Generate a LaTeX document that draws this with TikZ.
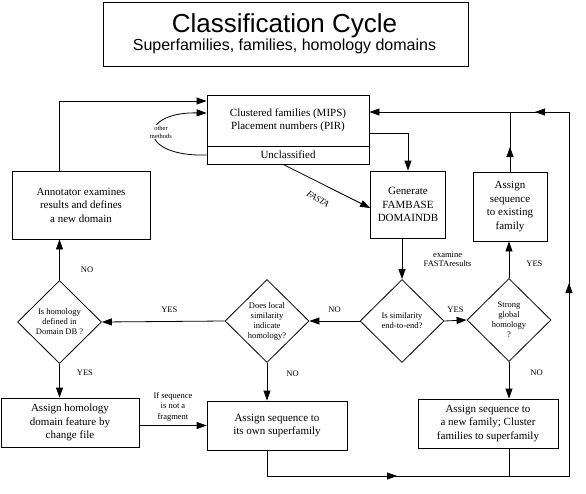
\documentclass[tikz,border=0pt]{standalone}
\usepackage{fontspec}
\setmainfont{Liberation Serif}
\newfontfamily\titlefont{Liberation Sans}
\usetikzlibrary{arrows.meta}
\usetikzlibrary{positioning}
\usetikzlibrary{calc}
\usetikzlibrary{shapes.geometric}

\tikzset{
    wire/.style={line width=0.8pt},
    arr/.style={line width=0.8pt, -{Triangle[length=10pt,width=7pt]}},
    box/.style={draw, line width=0.8pt, inner sep=0pt, align=center,
        font=\fontsize{11}{13.5}\selectfont},
    dia/.style={draw, diamond, line width=0.8pt, inner sep=0pt, align=center,
        minimum width=84pt, minimum height=83pt, font=\fontsize{8.5}{10}\selectfont},
    lbl/.style={font=\fontsize{8.5}{10}\selectfont, align=center, inner sep=1pt},
}

\begin{document}
\begin{tikzpicture}[x=1pt, y=-1pt]
            \useasboundingbox (0,0) rectangle (586,493);

            % 标题
            \node[draw, line width=0.8pt, minimum width=365pt, minimum height=64pt] (title) at (285.5,34) {};
            \node[anchor=base, font=\titlefont\fontsize{26}{28}\selectfont] (ttl) at (284.5,32) {Classification Cycle};
            \node[anchor=base, font=\titlefont\fontsize{16}{18}\selectfont] (sub) at (284.5,50) {Superfamilies, families, homology domains};

            % 方框
            \node[box, minimum width=162pt, minimum height=51pt] (clus) at (288,120.5) {Clustered families (MIPS)\\Placement numbers (PIR)};
            \node[box, minimum width=162pt, minimum height=18pt] (uncl) at (288,155) {Unclassified};
            \node[box, minimum width=138pt, minimum height=68pt] (annot) at (81,205) {Annotator examines\\results and defines\\a new domain};
            \node[box, minimum width=75pt, minimum height=67pt] (gen) at (408,204.5) {Generate\\FAMBASE\\DOMAINDB};
            \node[box, minimum width=74pt, minimum height=69pt] (exist) at (510,206.5) {Assign\\sequence\\to existing\\family};
            \node[box, minimum width=138pt, minimum height=49pt] (homa) at (70,422.5) {Assign homology\\domain feature by\\change file};
            \node[box, minimum width=140pt, minimum height=49pt] (own) at (277,425.5) {Assign sequence to\\its own superfamily};
            \node[box, minimum width=140pt, minimum height=49pt] (newf) at (488,423.5) {Assign sequence to\\a new family; Cluster\\families to superfamily};

            % 菱形
            \node[dia] (sim) at (402,321) {Is similarity\\end-to-end?};
            \node[dia] (glob) at (509,320) {Strong\\global\\homology\\?};
            \node[dia] (local) at (267,321) {Does local\\similarity\\indicate\\homology?};
            \node[dia] (hom) at (59.5,322) {Is homology\\defined in\\Domain DB ?};

            % 辅助点
            \coordinate (nw) at (hom.north |- 0,101);
            \coordinate (ne) at (569,112);
            \coordinate (se) at (569,476);
            \coordinate (sw) at (local.south |- se);
            \coordinate (jn) at (exist.north |- ne);
            \coordinate (m1) at (397,476);
            \coordinate (m2) at (569,283);
            \coordinate (m3) at (535,112);
            \coordinate (m4) at (exist.north |- 0,147);

            % 连线
            \draw[arr] (annot.north -| nw) -- (nw) -- (nw -| clus.west);
            \draw[arr] (uncl.west) .. controls (137,157) and (137,112) .. ($(clus.west)+(0,-7.5)$);
            \node[font=\fontsize{6.5}{8}\selectfont, fill=white, inner sep=0.5pt, align=center] (other) at (161,132) {other\\methods};
            \draw[arr] ($(clus.east)+(0,12.5)$) -| (gen.north);
            \draw[arr] ($(uncl.south)+(-5,0)$) -- ($(gen.west)+(0,3.5)$);
            \node[font=\itshape\fontsize{9}{10}\selectfont, rotate=-32, inner sep=0pt] (fasta) at (318,199) {FASTA};
            \draw[arr] (gen.south -| sim.north) -- (sim.north)
                node[midway, right=18pt, font=\fontsize{8.5}{9}\selectfont, align=center] {examine\\FASTAresults};
            \draw[arr] (sim.west) -- (local.east) node[lbl, midway, above=7pt] {NO};
            \draw[arr] (sim.east) -- (glob.west) node[lbl, midway, above=7pt] {YES};
            \draw[arr] (local.west) -- (hom.east) node[lbl, pos=.45, above=7pt] {YES};
            \draw[arr] (hom.north) -- (hom.north |- annot.south) node[lbl, pos=.25, right=20pt] {NO};
            \draw[arr] (hom.south) -- (hom.south |- homa.north) node[lbl, pos=.25, right=16pt] {YES};
            \draw[arr] (local.south) -- (local.south |- own.north) node[lbl, pos=.3, right=18pt] {NO};
            \draw[arr] (glob.south) -- (glob.south |- newf.north) node[lbl, pos=.3, right=20pt] {NO};
            \draw[arr] (glob.north) -- (glob.north |- exist.south) node[lbl, pos=.4, right=16pt] {YES};
            \draw[arr] (homa.east |- own.west) -- (own.west)
                node[lbl, midway, above=3pt, font=\fontsize{8.5}{10.5}\selectfont] {If sequence\\is not a\\fragment};
            \draw[wire] (exist.north) -- (jn);
            \draw[arr] (exist.north) -- (m4);
            \draw[wire] (glob.south |- newf.south) -- (glob.south |- se);
            % 回路
            \draw[arr] (sw |- own.south) -- (sw) -- (se) -- (ne) -- (ne -| clus.east);
            \draw[arr] ($(m1)+(-15,0)$) -- (m1);
            \draw[arr] ($(m2)+(0,15)$) -- (m2);
            \draw[arr] ($(m3)+(15,0)$) -- (m3);
        \end{tikzpicture}
\end{document}
